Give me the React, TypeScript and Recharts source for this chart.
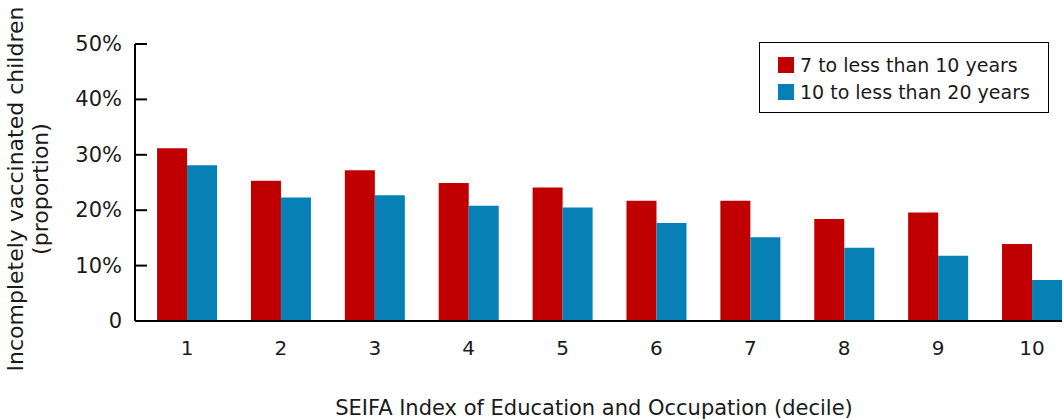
import { BarChart, Bar, XAxis, YAxis } from 'recharts';

const deciles = [1, 2, 3, 4, 5, 6, 7, 8, 9, 10];
const age7to10 = [31.2, 25.3, 27.2, 24.9, 24.1, 21.7, 21.7, 18.4, 19.6, 13.9];
const age10to20 = [28.1, 22.3, 22.7, 20.8, 20.5, 17.7, 15.1, 13.2, 11.8, 7.4];
const yTicks = [0, 10, 20, 30, 40, 50];
const seriesNames = ['7 to less than 10 years', '10 to less than 20 years'];
const seriesColors = ['#C00000', '#0680B5'];

const FONT = '"DejaVu Sans", sans-serif';

const data = deciles.map((d, i) => ({
  decile: d,
  young: age7to10[i],
  old: age10to20[i],
}));

function YTick(props: any) {
  const { x, y, payload } = props;
  const v = payload.value;
  return (
    <g>
      <line x1={x + 13} x2={x + 25} y1={y} y2={y} stroke="#000" strokeWidth={2} />
      <text
        x={x}
        y={y}
        textAnchor="end"
        dominantBaseline="central"
        fontFamily={FONT}
        fontSize={21}
        fill="#1a1a1a"
      >
        {v === 0 ? '0' : `${v}%`}
      </text>
    </g>
  );
}

function YLabel() {
  return (
    <text
      transform="translate(15, 189) rotate(-90)"
      textAnchor="middle"
      fontFamily={FONT}
      fontSize={22}
      fill="#1a1a1a"
    >
      <tspan x={0} dy="0.35em">Incompletely vaccinated children</tspan>
      <tspan x={0} dy="1.15em">(proportion)</tspan>
    </text>
  );
}

function XLabel(props: any) {
  const { viewBox } = props;
  return (
    <text
      x={594}
      y={viewBox.y + 87}
      textAnchor="middle"
      dominantBaseline="central"
      fontFamily={FONT}
      fontSize={21}
      fill="#1a1a1a"
    >
      SEIFA Index of Education and Occupation (decile)
    </text>
  );
}

function LegendBox() {
  return (
    <div
      style={{
        position: 'absolute',
        left: 759,
        top: 42,
        border: '1.5px solid #000',
        width: 290,
        height: 71,
        boxSizing: 'border-box',
        padding: '8px 0 0 18px',
        fontFamily: FONT,
        fontSize: 19,
        color: '#1a1a1a',
        background: '#fff',
      }}
    >
      {seriesNames.map((name, i) => (
        <div key={name} style={{ display: 'flex', alignItems: 'center', height: 27 }}>
          <span
            style={{
              display: 'inline-block',
              width: 16,
              height: 16,
              background: seriesColors[i],
              marginRight: 6,
            }}
          />
          {name}
        </div>
      ))}
    </div>
  );
}

export default function App() {
  return (
    <div style={{ position: 'absolute', left: 0, top: 0, width: 1064, height: 419, background: '#fff' }}>
      <BarChart
        width={1064}
        height={419}
        data={data}
        margin={{ top: 44, right: 2, bottom: 0, left: 0 }}
        barGap={0}
      >
        <XAxis
          dataKey="decile"
          type="number"
          domain={[0.446, 10.32]}
          allowDataOverflow
          ticks={deciles}
          interval={0}
          height={98}
          tickLine={false}
          tickSize={0}
          tickMargin={20}
          axisLine={{ stroke: '#000', strokeWidth: 2 }}
          tick={{ fontFamily: FONT, fontSize: 20, fill: '#1a1a1a' }}
          label={{ content: XLabel }}
        />
        <YAxis
          domain={[0, 50]}
          ticks={yTicks}
          width={135}
          tickLine={false}
          tickSize={0}
          tickMargin={13}
          axisLine={{ stroke: '#000', strokeWidth: 2 }}
          tick={YTick}
          label={{ content: YLabel }}
        />
        <Bar dataKey="young" name={seriesNames[0]} fill={seriesColors[0]} barSize={30} isAnimationActive={false} />
        <Bar dataKey="old" name={seriesNames[1]} fill={seriesColors[1]} barSize={30} isAnimationActive={false} />
      </BarChart>
      <LegendBox />
    </div>
  );
}
